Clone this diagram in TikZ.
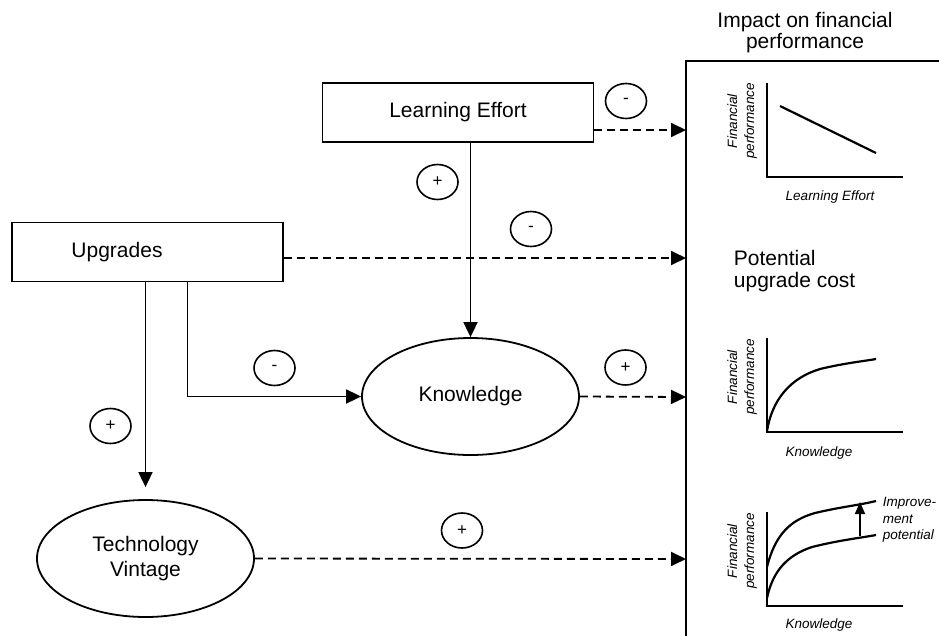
\documentclass[tikz,border=0pt]{standalone}
\usepackage{fontspec}
\setmainfont{Liberation Sans}
\usetikzlibrary{shapes.geometric,arrows.meta,calc}
\begin{document}
\begin{tikzpicture}[x=1pt,y=-1pt,
 font=\fontsize{21}{22}\selectfont,
 line width=1.8pt,
 boxnode/.style={draw, rectangle, minimum width=271pt, minimum height=59pt, inner sep=0pt},
 ellnode/.style={draw, ellipse, minimum width=217pt, minimum height=117pt, inner sep=0pt, align=center},
 signnode/.style={draw, ellipse, minimum width=41pt, minimum height=35pt, inner sep=0pt, line width=1.6pt, font=\fontsize{17}{17}\selectfont},
 arrowtip/.style={-{Triangle[length=15pt,width=14pt]}},
 dashline/.style={dash pattern=on 8pt off 5pt, arrowtip},
 graphtext/.style={font=\fontsize{13.5}{17}\selectfont\itshape, align=center, inner sep=0pt},
 axisline/.style={line width=1.8pt},
 curveline/.style={line width=2.2pt},
 ]
\useasboundingbox (0,0) rectangle (939,635);

% main nodes
\node[boxnode] (le) at (458,112.5) {Learning Effort};
\node[boxnode] (up) at (147.5,252) {Upgrades\hspace*{61pt}};
\node[ellnode] (kn) at (470.5,396.5) {Knowledge};
\node[ellnode, font=\fontsize{21}{25}\selectfont] (tv) at (145.5,558.5) {Technology\\Vintage};

% panel
\coordinate (ptop) at (686,61);
\coordinate (pbot) at (686,636);
\coordinate (pright) at (940,61);
\draw[line width=2pt] (pbot) -- (ptop) -- (pright);
\node[align=center, font=\fontsize{21}{21}\selectfont] (title) at (805,33) {Impact on financial\\performance};
\node[align=left, anchor=west, inner sep=0pt] (puc) at (733,271) {Potential\\upgrade cost};

% arrow ends on panel
\coordinate (e1) at (686,130);
\coordinate (e2) at (686,258);
\coordinate (e3) at (686,397);
\coordinate (e4) at (686,559);

% dashed connectors
\draw[dashline] (le.east |- e1) -- (e1);
\draw[dashline] (up.east |- e2) -- (e2);
\draw[dashline] (kn.east) -- (e3);
\draw[dashline] (tv.east) -- (e4);

% solid connectors
\draw[arrowtip] (le.south -| kn.north) -- (kn.north);
\draw[arrowtip, shorten >=12pt] (up.south -| tv.north) -- (tv.north);
\draw[arrowtip] ([xshift=40pt]up.south) |- (kn.west);

% sign circles
\node[signnode] (s1) at (626,101) {-};
\node[signnode] (s2) at (437.5,182) {+};
\node[signnode] (s3) at (531,229) {-};
\node[signnode] (s4) at (274.5,368) {-};
\node[signnode] (s5) at (625.5,367.5) {+};
\node[signnode] (s6) at (110.5,426) {+};
\node[signnode] (s7) at (462,530.5) {+};

% graph 1
\draw[axisline] (767,83) -- (767,177) -- (903,177);
\draw[curveline] (780,106) -- (876,153);
\node[graphtext, rotate=90] (g1y) at (742,121) {Financial\\performance};
\node[graphtext] (g1x) at (830,197) {Learning Effort};

% graph 2
\draw[axisline] (767,338) -- (767,432) -- (903,432);
\draw[curveline] (767,431) .. controls (772,400) and (790,378) .. (820,369) .. controls (845,363) and (865,361) .. (876,359);
\node[graphtext, rotate=90] (g2y) at (742,377) {Financial\\performance};
\node[graphtext] (g2x) at (819,453) {Knowledge};

% graph 3
\draw[axisline] (767,512) -- (767,606) -- (903,606);
\draw[curveline] (767,567) .. controls (775,535) and (790,520) .. (815,513) .. controls (840,507) and (860,505) .. (876,501);
\draw[curveline] (767,598) .. controls (773,570) and (788,555) .. (812,547) .. controls (840,540) and (860,538) .. (876,535);
\coordinate (ia) at (860,536);
\coordinate (ib) at (860,502);
\draw[line width=1.6pt, -{Triangle[length=12pt,width=10pt]}] (ia) -- (ib);
\node[graphtext, align=left, anchor=west, font=\fontsize{13.5}{16.5}\selectfont\itshape] (imp) at (882,520) {Improve-\\ment\\potential};
\node[graphtext, rotate=90] (g3y) at (742,551) {Financial\\performance};
\node[graphtext] (g3x) at (819,625) {Knowledge};
\end{tikzpicture}
\end{document}
